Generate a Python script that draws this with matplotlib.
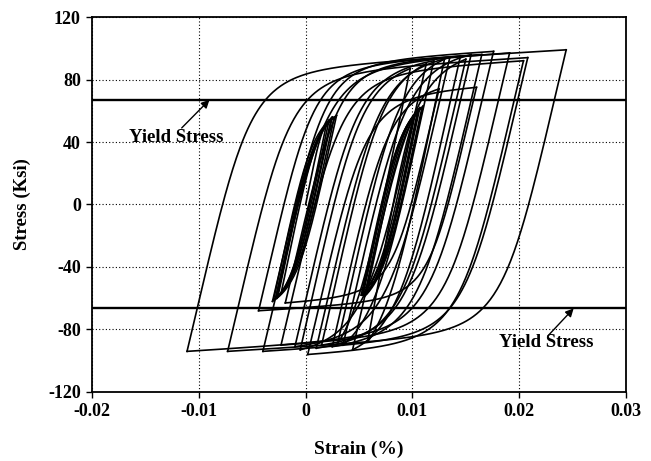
import numpy as np
import matplotlib
matplotlib.use("Agg")
import matplotlib.pyplot as plt

# ---------------- data ----------------
# reversal points of the cyclic stress-strain history (strain, stress in ksi)
rev_strain = [0.0,
              0.0020, -0.0023, 0.0022, -0.0026, 0.0025, -0.0028, 0.0027, -0.0030,
              0.0024, -0.0027, 0.0029, -0.0031,
              0.0176, -0.0111, 0.0244, -0.0073, 0.0208, -0.0040, 0.0191, -0.0023,
              0.0204, 0.0002, 0.0160, -0.0044, 0.0165, 0.0025, 0.0125, -0.0019,
              0.0145, 0.0044, 0.0150, 0.0010, 0.0135, -0.0010, 0.0120, 0.0035,
              0.0155, 0.0015, 0.0113, -0.0005, 0.0098, 0.0030, 0.0130, 0.0058,
              0.0103, 0.0054, 0.0106, 0.0052, 0.0109, 0.0055, 0.0107, 0.0057,
              0.0110, 0.0053, 0.0105, 0.0058]
rev_stress = [0.0,
              53, -57, 54, -59, 56, -60, 56, -61,
              55, -60, 57, -62,
              98, -94, 99, -94, 94, -94, 97, -90,
              92, -96, 75, -68, 96, -91, 74, -63,
              95, -93, 93, -92, 94, -91, 92, -90,
              96, -90, 90, -93, 87, -89, 93, -88,
              59, -57, 61, -58, 62, -59, 62, -57,
              63, -58, 60, -56]

yield_pos = 67
yield_neg = -66

x_ticks = [-0.02, -0.01, 0, 0.01, 0.02, 0.03]
x_labels = ["-0.02", "-0.01", "0", "0.01", "0.02", "0.03"]
y_ticks = [-120, -80, -40, 0, 40, 80, 120]
y_labels = ["-120", "-80", "-40", "0", "40", "80", "120"]

# material shape parameters (steel)
E_mod = 29000.0
b_hard = 0.014
R_shape = 3.6


def branch(e0, s0, e1, s1, n=300):
    """Menegotto-Pinto shaped branch between two reversal points."""
    de = e1 - e0
    ds = s1 - s0
    e_int = e0 + (ds - b_hard * E_mod * de) / (E_mod * (1 - b_hard))
    s_int = s0 + E_mod * (e_int - e0)
    e = np.linspace(e0, e1, n)
    xs = (e - e0) / (e_int - e0)
    xs = np.clip(xs, 0, None)
    ss = b_hard * xs + (1 - b_hard) * xs / (1 + xs ** R_shape) ** (1 / R_shape)
    s = s0 + ss * (s_int - s0)
    s = s0 + (s - s0) * ds / (s[-1] - s0)
    return e, s


plt.rcParams['font.family'] = ['Liberation Serif', 'DejaVu Serif']

fig = plt.figure(figsize=(6.51, 4.61), dpi=100)
ax = fig.add_axes([0.1413, 0.1497, 0.8203, 0.8134])

for i in range(len(rev_strain) - 1):
    e, s = branch(rev_strain[i], rev_stress[i], rev_strain[i + 1], rev_stress[i + 1])
    ax.plot(e, s, color='black', lw=1.2, solid_joinstyle='miter')

ax.axhline(yield_pos, color='black', lw=1.7)
ax.axhline(yield_neg, color='black', lw=1.7)

ax.set_xlim(-0.02, 0.03)
ax.set_ylim(-120, 120)
ax.set_xticks(x_ticks)
ax.set_xticklabels(x_labels)
ax.set_yticks(y_ticks)
ax.set_yticklabels(y_labels)
ax.grid(True, color='black', linestyle=(0, (1, 2)), lw=0.8)
for lab in ax.get_xticklabels() + ax.get_yticklabels():
    lab.set_fontweight('bold')
    lab.set_fontsize(13)
ax.tick_params(axis='both', direction='out', length=4, width=1, color='black', pad=4)
for sp in ax.spines.values():
    sp.set_linewidth(1.3)
    sp.set_color('black')

ax.set_xlabel("Strain (%)", fontsize=14, fontweight='bold', labelpad=15)
ax.set_ylabel("Stress (Ksi)", fontsize=13.5, fontweight='bold', labelpad=12)

ax.text(-0.0165, 43, "Yield Stress", fontsize=13.5, fontweight='bold',
        ha='left', va='center')
ax.annotate("", xy=(-0.0090, yield_pos), xytext=(-0.0116, 49),
            arrowprops=dict(arrowstyle='-|>', color='black', lw=1.0, mutation_scale=12,
                            shrinkA=0, shrinkB=0))
ax.text(0.0181, -88.5, "Yield Stress", fontsize=13.5, fontweight='bold',
        ha='left', va='center')
ax.annotate("", xy=(0.0251, yield_neg - 0.5), xytext=(0.0227, -84),
            arrowprops=dict(arrowstyle='-|>', color='black', lw=1.0, mutation_scale=12,
                            shrinkA=0, shrinkB=0))

fig.savefig("out.png", dpi=100)
